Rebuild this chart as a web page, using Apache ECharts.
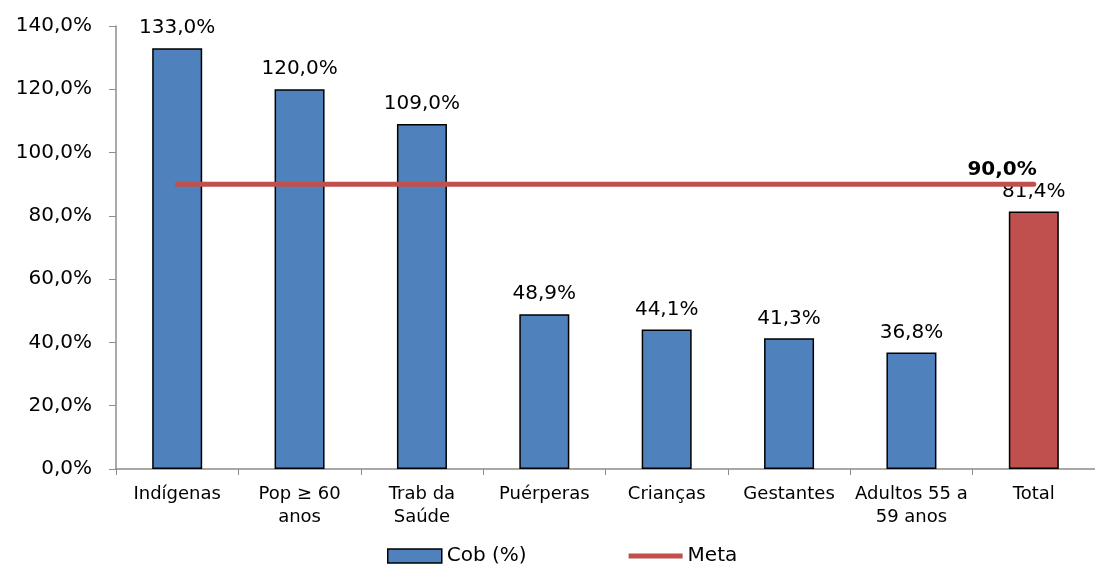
<!DOCTYPE html>
<html><head><meta charset="utf-8">
<script src="https://cdn.jsdelivr.net/npm/echarts@6/dist/echarts.min.js"></script>
<style>html,body{margin:0;padding:0;background:#fff}#c{width:1095px;height:569px}</style>
</head><body><div id="c"></div>
<script>
const categories = ['Indígenas', 'Pop ≥ 60\nanos', 'Trab da\nSaúde', 'Puérperas', 'Crianças', 'Gestantes', 'Adultos 55 a\n59 anos', 'Total'];
const cobValues = [133.0, 120.0, 109.0, 48.9, 44.1, 41.3, 36.8, 81.4];
const metaValues = [90, 90, 90, 90, 90, 90, 90, 90];
const yTicks = [0, 20, 40, 60, 80, 100, 120, 140];

const fmt = v => v.toFixed(1).replace('.', ',') + '%';
const FONT = 'DejaVu Sans';
const chart = echarts.init(document.getElementById('c'));
chart.setOption({
  animation: false,
  textStyle: { fontFamily: FONT },
  grid: { left: 116, top: 26, width: 986, height: 443, containLabel: false },
  legend: {
    bottom: -2, left: 382, itemGap: 102, textStyle: { fontSize: 20, color: '#000', fontFamily: FONT },
    itemWidth: 54, itemHeight: 14,
    data: [
      { name: 'Cob (%)', icon: 'rect', itemStyle: { color: '#4F81BD', borderColor: '#000', borderWidth: 1.5 } },
      { name: 'Meta', icon: 'path://M0,0 L54,0 L54,5 L0,5 Z', itemStyle: { color: '#C0504D' } }
    ]
  },
  xAxis: {
    type: 'category', data: categories, boundaryGap: true,
    axisLine: { lineStyle: { color: '#8c8c8c', width: 1.5 } },
    axisTick: { show: true, length: 6, lineStyle: { color: '#8c8c8c' } },
    axisLabel: { fontSize: 18, color: '#000', fontFamily: FONT, margin: 14, lineHeight: 23, interval: 0 }
  },
  yAxis: {
    type: 'value', min: 0, max: 140, interval: 20,
    axisLine: { show: true, lineStyle: { color: '#8c8c8c', width: 1.5 } },
    axisTick: { show: true, length: 7, inside: false, lineStyle: { color: '#8c8c8c' } },
    splitLine: { show: false },
    axisLabel: { fontSize: 20, color: '#000', fontFamily: FONT, margin: 24, formatter: v => fmt(v) }
  },
  series: [
    {
      name: 'Cob (%)', type: 'bar', barWidth: 50,
      data: cobValues.map((v, i) => ({
        value: v,
        itemStyle: { color: i === cobValues.length - 1 ? '#C0504D' : '#4F81BD', borderColor: '#000', borderWidth: 1.5 }
      })),
      label: { show: true, position: 'top', distance: 10, fontSize: 20, color: '#000', fontFamily: FONT, formatter: p => fmt(p.value) },
      z: 2
    },
    {
      name: 'Meta', type: 'line', data: metaValues, symbol: 'none',
      lineStyle: { color: '#C0504D', width: 5, cap: 'round' }, itemStyle: { color: '#C0504D' },
      endLabel: { show: true, formatter: p => fmt(p.value), fontSize: 20, fontWeight: 'bold', color: '#000', fontFamily: FONT, align: 'right', verticalAlign: 'bottom', offset: [-5, -4] },
      z: 3
    }
  ]
});
</script></body></html>
